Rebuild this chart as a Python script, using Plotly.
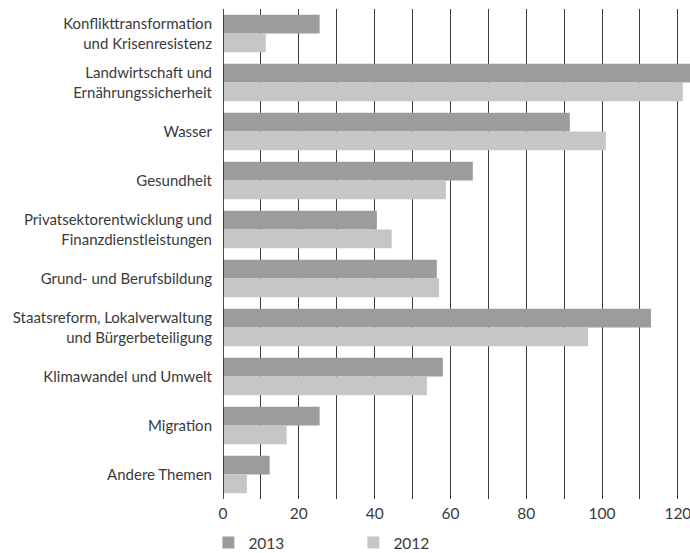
import plotly.graph_objects as go

categories = [
    "Konflikttransformation<br>und Krisenresistenz",
    "Landwirtschaft und<br>Ernährungssicherheit",
    "Wasser",
    "Gesundheit",
    "Privatsektorentwicklung und<br>Finanzdienstleistungen",
    "Grund- und Berufsbildung",
    "Staatsreform, Lokalverwaltung<br>und Bürgerbeteiligung",
    "Klimawandel und Umwelt",
    "Migration",
    "Andere Themen",
]
values_2013 = [25.5, 123.5, 91.5, 65.9, 40.6, 56.4, 112.9, 58.0, 25.5, 12.3]
values_2012 = [11.3, 121.3, 101.0, 58.8, 44.5, 57.0, 96.3, 53.8, 16.8, 6.3]
x_ticks = [0, 20, 40, 60, 80, 100, 120]

FONT = "Lato"
TEXT = "#3a3a3a"

fig = go.Figure()
fig.add_trace(go.Bar(y=categories, x=values_2013, orientation="h", name="2013",
                     marker=dict(color="#9c9c9c", line=dict(width=0))))
fig.add_trace(go.Bar(y=categories, x=values_2012, orientation="h", name="2012",
                     marker=dict(color="#c6c6c6", line=dict(width=0))))

fig.update_layout(
    width=690, height=553,
    margin=dict(l=223, r=0, t=9, b=54, autoexpand=False),
    paper_bgcolor="white", plot_bgcolor="white",
    barmode="group", bargap=0.235, bargroupgap=0,
    font=dict(family=FONT, size=15, color=TEXT),
    showlegend=True,
    legend=dict(orientation="h", xref="container", yref="container",
                x=0.302, y=0.049, xanchor="left", yanchor="top",
                entrywidth=100, entrywidthmode="pixels",
                bgcolor="rgba(0,0,0,0)",
                font=dict(family=FONT, size=15.5, color=TEXT),
                itemclick=False, tracegroupgap=0),
)
fig.update_xaxes(
    range=[0, 123.2], tickvals=x_ticks, ticktext=[str(v) for v in x_ticks],
    showgrid=True, gridcolor="#3c3c3c", gridwidth=1,
    zeroline=False, showline=False, ticks="", ticklabelstandoff=3,
    automargin=False, ticklabeloverflow="allow",
    tickfont=dict(family=FONT, size=15.5, color=TEXT),
    minor=dict(showgrid=True, gridcolor="#3c3c3c", gridwidth=1, dtick=10),
)
fig.update_yaxes(
    autorange="reversed", showgrid=False, zeroline=False, automargin=False,
    showline=False, ticks="", ticklabelstandoff=10, ticklabeloverflow="allow",
    tickfont=dict(family=FONT, size=15, color=TEXT),
)
fig.add_shape(type="line", xref="x", yref="paper", x0=0, x1=0, y0=0, y1=1,
              line=dict(color="#222222", width=1.6))
fig.write_html(
    "out.html",
    config={"displayModeBar": False},
    post_script="document.body.style.margin='0';document.body.style.overflow='hidden';",
)
